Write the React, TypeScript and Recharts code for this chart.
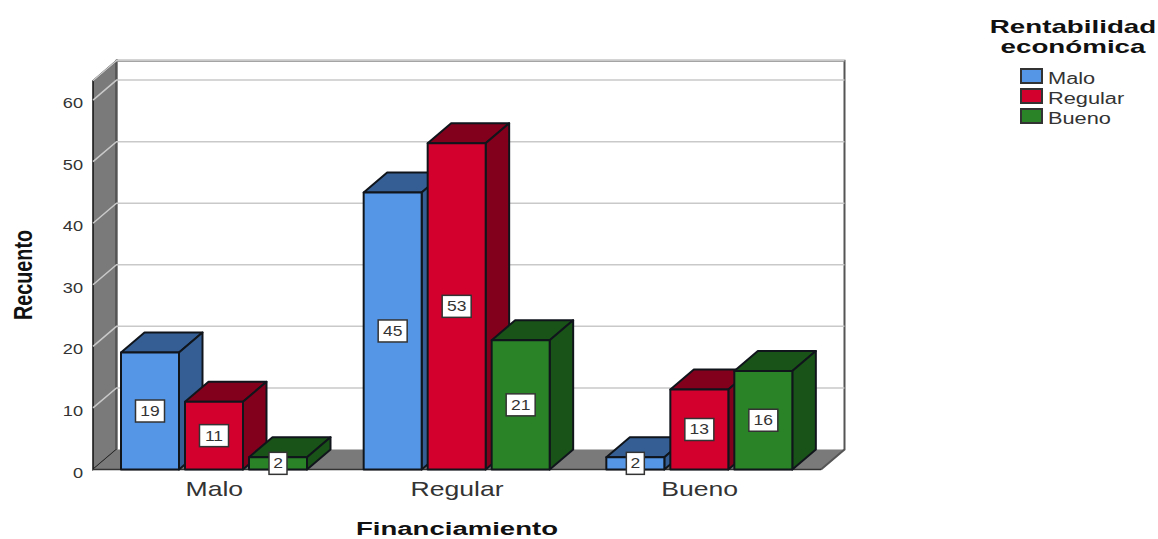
import { Bar, BarChart, CartesianGrid, LabelList, Legend, ReferenceArea, XAxis, YAxis } from 'recharts';

const categories = ['Malo', 'Regular', 'Bueno'];
const malo = [19, 45, 2];
const regular = [11, 53, 13];
const bueno = [2, 21, 16];
const yTicks = [0, 10, 20, 30, 40, 50, 60];
const legendTitle = ['Rentabilidad', 'económica'];

const data = categories.map((name, i) => ({ name, malo: malo[i], regular: regular[i], bueno: bueno[i] }));

const FONT = '"Liberation Sans", Arial, sans-serif';
// depth of the fake 3D box, in px
const DX = 23.5;
const DY = -20;

const COLORS = {
  malo: { front: '#5596e6', top: '#355f94', side: '#355f94' },
  regular: { front: '#d3002d', top: '#82001c', side: '#82001c' },
  bueno: { front: '#2a8427', top: '#1a5317', side: '#1a5317' },
};

// Text stretched sideways, the fonts here are all narrower than the chart's
function WideText({ x, y, sx = 1.3, size, bold, anchor = 'middle', children }: any) {
  return (
    <text
      transform={`translate(${x} ${y}) scale(${sx} 1)`}
      textAnchor={anchor}
      fontFamily={FONT}
      fontSize={size}
      fontWeight={bold ? 700 : 400}
      fill={bold ? '#111' : '#333'}
    >
      {children}
    </text>
  );
}

function Box3D(props: any) {
  const { x, y, width, height, colors } = props;
  const r = x + width;
  const b = y + height;
  return (
    <g stroke="#10151c" strokeWidth={2} strokeLinejoin="round">
      <polygon points={`${x},${y} ${x + DX},${y + DY} ${r + DX},${y + DY} ${r},${y}`} fill={colors.top} />
      <polygon points={`${r},${y} ${r + DX},${y + DY} ${r + DX},${b + DY} ${r},${b}`} fill={colors.side} />
      <rect x={x} y={y} width={width} height={height} fill={colors.front} />
    </g>
  );
}

function ValueBox(props: any) {
  const { x, y, width, height, value } = props;
  const cx = x + width / 2;
  const cy = y + height / 2;
  const w = String(value).length > 1 ? 29 : 18;
  return (
    <g>
      <rect x={cx - w / 2} y={cy - 11} width={w} height={22} fill="#fff" stroke="#333" strokeWidth={1.5} />
      <WideText x={cx} y={cy + 5} size={14} sx={1.25}>{value}</WideText>
    </g>
  );
}

// Left wall, floor and back wall outline behind the bars
function Walls({ x, y, width, height }: any) {
  const r = x + width;
  const b = y + height;
  return (
    <g>
      <polygon points={`${x},${y} ${x + DX},${y + DY} ${x + DX},${b + DY} ${x},${b}`} fill="#7a7a7a" stroke="#111" strokeWidth={1.5} />
      <polygon points={`${x},${b} ${x + DX},${b + DY} ${r + DX},${b + DY} ${r},${b}`} fill="#7a7a7a" stroke="none" />
      <polyline points={`${x + DX},${b + DY} ${x + DX},${y + DY} ${r + DX},${y + DY} ${r + DX},${b + DY} ${r},${b}`} fill="none" stroke="#555" strokeWidth={2} />
      <line x1={x} y1={b} x2={r} y2={b} stroke="#333" strokeWidth={1.5} />
    </g>
  );
}

function GridLine({ x1, y1, x2 }: any) {
  if (y1 > 460) return <g />;
  return (
    <polyline
      points={`${x1},${y1} ${x1 + DX},${y1 + DY} ${x2 + DX},${y1 + DY}`}
      fill="none"
      stroke="#c9c9c9"
      strokeWidth={1.5}
    />
  );
}

function YTick({ y, payload }: any) {
  return <WideText x={83} y={y + 8} size={14} sx={1.3} anchor="end">{payload.value}</WideText>;
}

function XTick({ x, y, payload }: any) {
  return <WideText x={x} y={y + 18} size={20} sx={1.33}>{payload.value}</WideText>;
}

function LegendBlock() {
  const rows = [
    { label: 'Malo', color: COLORS.malo.front },
    { label: 'Regular', color: COLORS.regular.front },
    { label: 'Bueno', color: COLORS.bueno.front },
  ];
  return (
    <div style={{ width: 200, fontFamily: FONT }}>
      {legendTitle.map((t) => (
        <div key={t} style={{ textAlign: 'center', fontWeight: 700, fontSize: 19, lineHeight: '20px', color: '#111', transform: 'scaleX(1.46)' }}>{t}</div>
      ))}
      <div style={{ marginTop: 9, marginLeft: 47 }}>
        {rows.map((row) => (
          <div key={row.label} style={{ height: 20, display: 'flex', alignItems: 'center', position: 'relative' }}>
            <span style={{ width: 19, height: 12, background: row.color, border: '2px solid #333', boxSizing: 'content-box' }} />
            <span style={{ position: 'absolute', left: 28, top: 4, fontSize: 16, lineHeight: '18px', color: '#333', transform: 'scaleX(1.36)', transformOrigin: 'left' }}>{row.label}</span>
          </div>
        ))}
      </div>
    </div>
  );
}

export default function App() {
  return (
    <div style={{ position: 'absolute', left: 0, top: 0, width: 1158, height: 539, background: '#fff' }}>
      <BarChart
        width={1158}
        height={539}
        data={data}
        margin={{ top: 80.7, right: 137, bottom: 0, left: 0 }}
        barGap={6}
        barSize={58}
      >
        <ReferenceArea y1={0} y2={63.15} shape={<Walls />} ifOverflow="visible" zIndex={-200} />
        <CartesianGrid vertical={false} horizontal={(p: any) => <GridLine key={p.key} {...p} />} />
        <XAxis dataKey="name" height={69.5} axisLine={false} tickLine={false} tick={<XTick />} interval={0} />
        <YAxis type="number" domain={[0, 63.15]} ticks={yTicks} width={93} axisLine={false} tickLine={false} tick={<YTick />} />
        <Legend layout="vertical" align="right" verticalAlign="top" content={<LegendBlock />} wrapperStyle={{ left: 973, top: 17, width: 200, right: 'auto' }} />
        <Bar dataKey="malo" isAnimationActive={false} shape={<Box3D colors={COLORS.malo} />}>
          <LabelList dataKey="malo" content={<ValueBox />} />
        </Bar>
        <Bar dataKey="regular" isAnimationActive={false} shape={<Box3D colors={COLORS.regular} />}>
          <LabelList dataKey="regular" content={<ValueBox />} />
        </Bar>
        <Bar dataKey="bueno" isAnimationActive={false} shape={<Box3D colors={COLORS.bueno} />}>
          <LabelList dataKey="bueno" content={<ValueBox />} />
        </Bar>
        <text transform="translate(32 275) rotate(-90) scale(0.9 1.2)" textAnchor="middle" fontFamily={FONT} fontSize={22} fontWeight={700} fill="#111">Recuento</text>
        <text transform="translate(457 535) scale(1.45 1)" textAnchor="middle" fontFamily={FONT} fontSize={19} fontWeight={700} fill="#111">Financiamiento</text>
      </BarChart>
    </div>
  );
}
